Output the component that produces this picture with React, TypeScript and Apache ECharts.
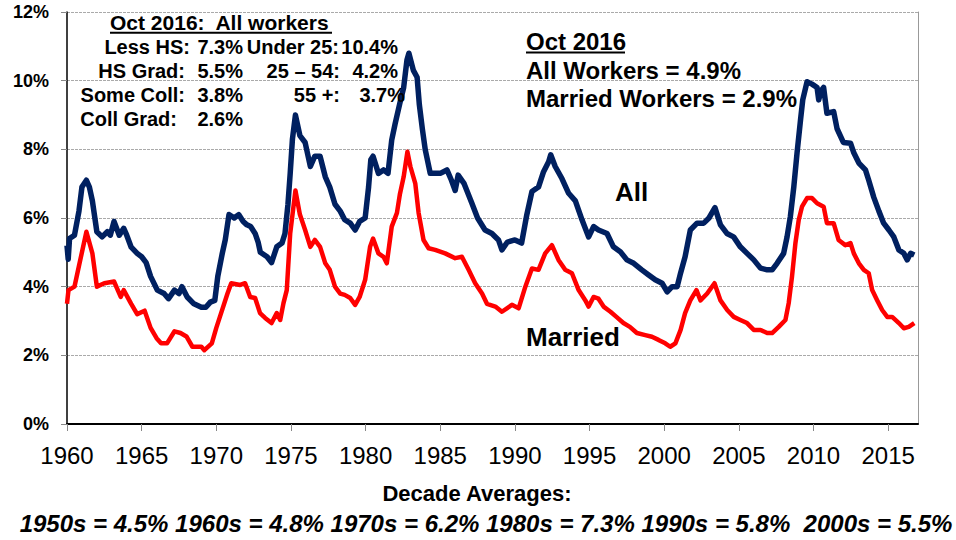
import React, { useEffect, useRef } from "react";
import * as echarts from "echarts";

// ---- Data ----
const allYears = [
  1960.0, 1960.08, 1960.17, 1960.5, 1960.8, 1961.0, 1961.3, 1961.5, 1961.7, 1962.0,
  1962.35, 1962.7, 1962.9, 1963.15, 1963.5, 1963.8, 1964.0, 1964.3, 1964.7, 1965.0,
  1965.3, 1965.6, 1966.05, 1966.5, 1966.8, 1967.2, 1967.5, 1967.7, 1968.05, 1968.5,
  1969.0, 1969.3, 1969.6, 1969.9, 1970.1, 1970.4, 1970.6, 1970.85, 1971.2, 1971.5,
  1971.8, 1972.05, 1972.3, 1972.6, 1972.8, 1972.95, 1973.4, 1973.7, 1974.05, 1974.4,
  1974.6, 1974.8, 1974.95, 1975.1, 1975.3, 1975.45, 1975.6, 1975.95, 1976.3, 1976.6,
  1976.95, 1977.3, 1977.6, 1977.95, 1978.3, 1978.6, 1978.97, 1979.3, 1979.6, 1979.97,
  1980.2, 1980.35, 1980.5, 1980.86, 1981.2, 1981.5, 1981.75, 1981.98, 1982.3, 1982.55,
  1982.77, 1982.9, 1983.2, 1983.45, 1983.6, 1983.8, 1984.0, 1984.33, 1984.7, 1985.0,
  1985.45, 1985.75, 1986.0, 1986.2, 1986.6, 1987.1, 1987.5, 1988.0, 1988.46, 1988.9,
  1989.13, 1989.5, 1990.0, 1990.45, 1990.8, 1991.14, 1991.58, 1991.92, 1992.26, 1992.4,
  1992.7, 1993.15, 1993.6, 1994.05, 1994.5, 1994.94, 1995.27, 1995.6, 1996.17, 1996.6,
  1997.06, 1997.5, 1997.96, 1998.5, 1998.96, 1999.4, 1999.86, 2000.2, 2000.53, 2000.87,
  2001.1, 2001.4, 2001.75, 2002.2, 2002.65, 2003.0, 2003.4, 2003.77, 2004.2, 2004.65,
  2005.1, 2005.55, 2006.0, 2006.45, 2006.9, 2007.23, 2007.56, 2008.0, 2008.23, 2008.45,
  2008.68, 2008.9, 2009.13, 2009.28, 2009.57, 2009.9, 2010.24, 2010.35, 2010.5, 2010.68,
  2010.9, 2011.35, 2011.58, 2012.0, 2012.48, 2012.7, 2013.04, 2013.48, 2013.7, 2014.04,
  2014.38, 2014.7, 2015.05, 2015.38, 2015.72, 2016.05, 2016.28, 2016.5, 2016.75,
];
const allRates = [
  5.2, 4.8, 5.4, 5.5, 6.2, 6.9, 7.1, 6.9, 6.5, 5.6,
  5.45, 5.6, 5.5, 5.9, 5.5, 5.7, 5.5, 5.15, 4.97, 4.87,
  4.7, 4.3, 3.9, 3.8, 3.65, 3.9, 3.8, 4.0, 3.7, 3.5,
  3.4, 3.4, 3.55, 3.6, 4.3, 4.97, 5.36, 6.1, 6.0, 6.1,
  5.9, 5.8, 5.75, 5.55, 5.3, 5.0, 4.87, 4.7, 5.16, 5.27,
  5.55, 6.4, 7.3, 8.3, 9.0, 8.7, 8.4, 8.2, 7.5, 7.8,
  7.8, 7.2, 6.9, 6.4, 6.2, 5.95, 5.85, 5.65, 5.9, 6.0,
  6.9, 7.7, 7.8, 7.3, 7.4, 7.3, 8.27, 8.75, 9.35, 9.8,
  10.6, 10.8, 10.3, 10.1, 9.3, 8.6, 7.98, 7.3, 7.3, 7.3,
  7.4, 7.1, 6.8, 7.25, 7.0, 6.45, 6.0, 5.65, 5.55, 5.36,
  5.07, 5.3, 5.36, 5.27, 6.1, 6.77, 6.9, 7.35, 7.64, 7.84,
  7.5, 7.15, 6.72, 6.5, 5.94, 5.45, 5.75, 5.65, 5.55, 5.16,
  5.02, 4.78, 4.68, 4.49, 4.34, 4.2, 4.1, 3.85, 4.0, 4.0,
  4.4, 4.87, 5.65, 5.85, 5.85, 6.0, 6.3, 5.8, 5.55, 5.45,
  5.16, 4.97, 4.78, 4.54, 4.49, 4.49, 4.68, 4.97, 5.45, 6.04,
  6.9, 7.9, 8.85, 9.44, 9.97, 9.9, 9.8, 9.44, 9.7, 9.8,
  9.05, 9.1, 8.6, 8.2, 8.18, 7.9, 7.6, 7.4, 7.1, 6.6,
  6.2, 5.85, 5.65, 5.45, 5.07, 4.97, 4.78, 4.97, 4.92,
];

const marriedYears = [
  1960.0, 1960.1, 1960.5, 1960.8, 1961.3, 1961.7, 1962.0, 1962.5, 1963.15, 1963.6,
  1963.8, 1964.3, 1964.7, 1965.2, 1965.6, 1966.0, 1966.3, 1966.7, 1967.2, 1967.6,
  1968.0, 1968.4, 1969.0, 1969.2, 1969.7, 1970.0, 1970.3, 1970.75, 1971.0, 1971.6,
  1971.93, 1972.27, 1972.6, 1972.93, 1973.27, 1973.7, 1974.05, 1974.28, 1974.5, 1974.72,
  1974.95, 1975.3, 1975.6, 1975.95, 1976.3, 1976.6, 1976.95, 1977.3, 1977.6, 1977.95,
  1978.3, 1978.6, 1978.97, 1979.3, 1979.6, 1979.97, 1980.3, 1980.5, 1980.86, 1981.2,
  1981.42, 1981.75, 1982.1, 1982.3, 1982.55, 1982.8, 1983.0, 1983.33, 1983.55, 1983.88,
  1984.22, 1984.66, 1985.33, 1986.0, 1986.45, 1986.9, 1987.34, 1987.8, 1988.13, 1988.69,
  1989.13, 1989.8, 1990.25, 1990.7, 1991.14, 1991.58, 1992.03, 1992.48, 1992.92, 1993.37,
  1993.82, 1994.27, 1994.72, 1994.94, 1995.27, 1995.6, 1995.94, 1996.4, 1996.8, 1997.27,
  1997.7, 1998.17, 1998.73, 1999.18, 1999.62, 2000.07, 2000.4, 2000.75, 2001.1, 2001.4,
  2001.75, 2002.16, 2002.43, 2002.88, 2003.37, 2003.77, 2004.22, 2004.66, 2005.1, 2005.55,
  2006.0, 2006.45, 2006.9, 2007.23, 2007.67, 2008.12, 2008.34, 2008.56, 2008.79, 2009.01,
  2009.23, 2009.57, 2009.9, 2010.24, 2010.68, 2010.9, 2011.35, 2011.68, 2012.13, 2012.48,
  2012.7, 2013.04, 2013.37, 2013.7, 2013.93, 2014.27, 2014.6, 2014.94, 2015.27, 2015.72,
  2016.05, 2016.38, 2016.75,
];
const marriedRates = [
  3.5, 3.9, 4.0, 4.6, 5.6, 4.97, 4.0, 4.1, 4.15, 3.7,
  3.9, 3.5, 3.2, 3.3, 2.8, 2.5, 2.35, 2.35, 2.7, 2.65,
  2.55, 2.25, 2.25, 2.15, 2.35, 2.8, 3.2, 3.8, 4.1, 4.05,
  4.1, 3.7, 3.67, 3.23, 3.09, 2.94, 3.23, 3.03, 3.52, 3.9,
  5.55, 6.8, 6.1, 5.65, 5.16, 5.36, 5.16, 4.68, 4.49, 4.0,
  3.8, 3.76, 3.67, 3.47, 3.7, 4.2, 5.16, 5.4, 4.97, 4.87,
  4.68, 5.75, 6.15, 6.7, 7.2, 7.93, 7.5, 7.0, 6.15, 5.36,
  5.12, 5.07, 4.97, 4.83, 4.87, 4.49, 4.1, 3.8, 3.5, 3.42,
  3.27, 3.47, 3.37, 4.0, 4.53, 4.49, 4.97, 5.21, 4.78, 4.49,
  4.39, 3.9, 3.6, 3.42, 3.7, 3.65, 3.42, 3.27, 3.12, 2.94,
  2.83, 2.65, 2.59, 2.54, 2.45, 2.35, 2.25, 2.35, 2.74, 3.23,
  3.6, 3.9, 3.6, 3.8, 4.1, 3.6, 3.32, 3.12, 3.03, 2.94,
  2.74, 2.74, 2.65, 2.65, 2.83, 3.03, 3.52, 4.29, 5.27, 5.94,
  6.33, 6.58, 6.58, 6.43, 6.33, 5.85, 5.85, 5.36, 5.21, 5.27,
  4.97, 4.68, 4.49, 4.39, 3.9, 3.6, 3.32, 3.12, 3.12, 2.94,
  2.79, 2.83, 2.94,
];

const yTicks = [0, 2, 4, 6, 8, 10, 12];
const xTickYears = [1960, 1965, 1970, 1975, 1980, 1985, 1990, 1995, 2000, 2005, 2010, 2015];

const educationLabels = ["Less HS:", "HS Grad:", "Some Coll:", "Coll Grad:"];
const educationRates = ["7.3%", "5.5%", "3.8%", "2.6%"];
const ageLabels = ["Under 25:", "25 \u2013 54:", "55 +:"];
const ageRates = ["10.4%", "4.2%", "3.7%"];

const summaryAll = "4.9%";
const summaryMarried = "2.9%";

const decades = ["1950s", "1960s", "1970s", "1980s", "1990s", "2000s"];
const decadeAverages = ["4.5%", "4.8%", "6.2%", "7.3%", "5.8%", "5.5%"];

const FONT = "'Liberation Sans', Arial, Helvetica, sans-serif";

function zip(xs: number[], ys: number[]) {
  return xs.map((x, i) => [x, ys[i]]);
}

export default function App() {
  const ref = useRef<HTMLDivElement>(null);

  useEffect(() => {
    if (!ref.current) return;
    const chart = echarts.init(ref.current, undefined, { renderer: "svg" });

    const txt = (text: string, x: number, y: number, size: number, align: string, extra: any = {}) => ({
      type: "text",
      x,
      y,
      style: {
        text,
        fill: "#000",
        font: `${extra.italic ? "italic " : ""}bold ${size}px ${FONT}`,
        textAlign: align,
        textVerticalAlign: "middle",
      },
      z: 100,
    });

    const rowY = [46.7, 70.8, 95, 119.3];
    const eduRight = [190, 185, 185, 177];
    const ageRight = [339, 340, 340];
    const ageValRight = [398, 398, 405];

    const graphics: any[] = [];
    graphics.push(txt("Oct 2016:\u00a0 All workers", 110, 22.7, 21, "left"));
    graphics.push({
      type: "line",
      shape: { x1: 110, y1: 32.8, x2: 332, y2: 32.8 },
      style: { stroke: "#000", lineWidth: 2 },
      z: 100,
    });
    educationLabels.forEach((l, i) => {
      graphics.push(txt(l, eduRight[i], rowY[i], 20, "right"));
      graphics.push(txt(educationRates[i], 243, rowY[i], 20, "right"));
    });
    ageLabels.forEach((l, i) => {
      graphics.push(txt(l, ageRight[i], rowY[i], 20, "right"));
      graphics.push(txt(ageRates[i], ageValRight[i], rowY[i], 20, "right"));
    });

    graphics.push(txt("Oct 2016", 526, 41.7, 24, "left"));
    graphics.push({
      type: "line",
      shape: { x1: 526, y1: 52.5, x2: 625, y2: 52.5 },
      style: { stroke: "#000", lineWidth: 2.2 },
      z: 100,
    });
    graphics.push(txt(`All Workers = ${summaryAll}`, 526, 70, 24, "left"));
    graphics.push(txt(`Married Workers = ${summaryMarried}`, 526, 98.3, 24, "left"));

    graphics.push(txt("All", 615, 192, 26, "left"));
    graphics.push(txt("Married", 526, 337, 26, "left"));

    graphics.push(txt("Decade Averages:", 477, 493, 22, "center"));
    const decadeLine = decades
      .map((d, i) => `${d} = ${decadeAverages[i]}`)
      .reduce((acc, s, i) => (i === 0 ? s : acc + (i === 5 ? " \u00a0" : " ") + s), "");
    graphics.push(txt(decadeLine, 486, 523.5, 24, "center", { italic: true }));

    chart.setOption({
      animation: false,
      backgroundColor: "#ffffff",
      grid: { left: 67, right: 38, top: 12, bottom: 116, containLabel: false },
      xAxis: {
        type: "value",
        min: 1960,
        max: 2017,
        interval: 5,
        axisLine: { show: true, onZero: false, lineStyle: { color: "#000", width: 2 } },
        axisTick: { show: true, length: 7, lineStyle: { color: "#888", width: 1 } },
        axisLabel: {
          show: true,
          margin: 19,
          fontSize: 24,
          fontFamily: FONT,
          color: "#000",
          showMaxLabel: false,
          formatter: (v: number) => (xTickYears.indexOf(Math.round(v)) >= 0 && Math.abs(v - Math.round(v)) < 1e-6 ? String(Math.round(v)) : ""),
        },
        splitLine: { show: false },
      },
      yAxis: [
        {
          type: "value",
          min: yTicks[0],
          max: yTicks[yTicks.length - 1],
          interval: 2,
          axisLine: { show: true, lineStyle: { color: "#000", width: 1.5 } },
          axisTick: { show: true, length: 6, lineStyle: { color: "#888" } },
          axisLabel: {
            margin: 18,
            fontSize: 18,
            fontWeight: "bold",
            fontFamily: FONT,
            color: "#000",
            formatter: "{value}%",
          },
          splitLine: { show: true, lineStyle: { color: "#aaaaaa", width: 1, type: [3, 1] } },
        },
        {
          type: "value",
          position: "right",
          min: 0,
          max: 12,
          interval: 2,
          axisLine: { show: true, lineStyle: { color: "#999", width: 1 } },
          axisTick: { show: false },
          axisLabel: { show: false },
          splitLine: { show: false },
        },
      ],
      series: [
        {
          name: "Married",
          type: "line",
          data: zip(marriedYears, marriedRates),
          showSymbol: false,
          symbol: "none",
          lineStyle: { color: "#ff0000", width: 4.5, join: "round" },
          z: 3,
        },
        {
          name: "All",
          type: "line",
          data: zip(allYears, allRates),
          showSymbol: false,
          symbol: "none",
          lineStyle: { color: "#002060", width: 5.5, join: "round" },
          z: 4,
        },
      ],
      graphic: graphics,
    });

    return () => chart.dispose();
  }, []);

  return (
    <div
      ref={ref}
      style={{ position: "fixed", left: 0, top: 0, width: 956, height: 540, background: "#fff" }}
    />
  );
}
